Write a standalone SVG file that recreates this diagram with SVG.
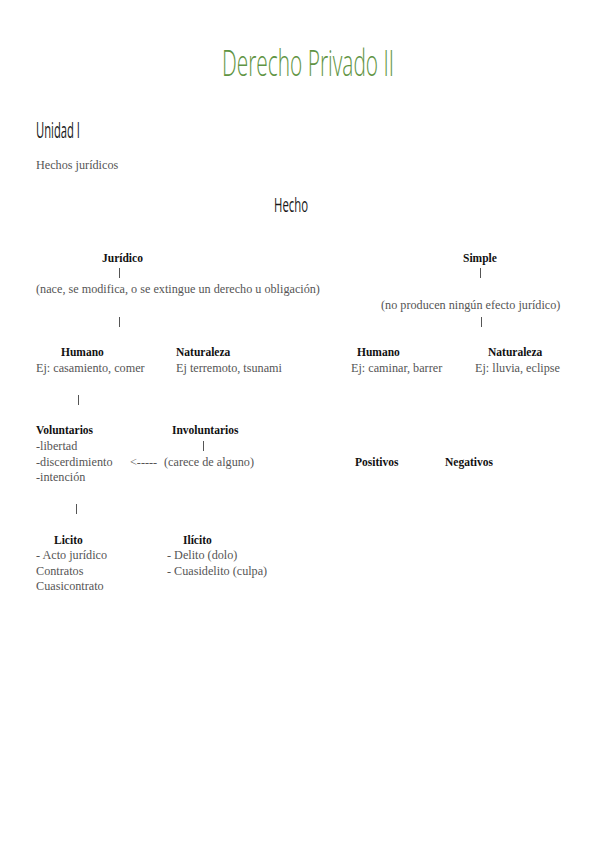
<svg xmlns="http://www.w3.org/2000/svg" width="599" height="848" viewBox="0 0 599 848">
<style>
.t{font-family:"Liberation Serif","Times New Roman",serif;font-size:12.2px;fill:#555}
.b{font-family:"Liberation Serif","Times New Roman",serif;font-size:11.5px;font-weight:bold;fill:#111}
.h{font-family:"Open Sans","DejaVu Sans",sans-serif;font-weight:400;fill:#1a1a1a}
.bar{stroke:#555;stroke-width:1}
</style>
<rect width="599" height="848" fill="#fff"/>
<g id="title"><text class="h" x="222" y="76" font-size="36" style="fill:#5f9443;font-weight:300" textLength="172" lengthAdjust="spacingAndGlyphs">Derecho Privado II</text></g>
<g id="unidad"><text class="h" x="36" y="138" font-size="21" textLength="44" lengthAdjust="spacingAndGlyphs">Unidad I</text></g>
<g id="hechos-juridicos"><text class="t" x="36" y="169">Hechos jurídicos</text></g>
<g id="hecho"><text class="h" x="274" y="212" font-size="20" textLength="34" lengthAdjust="spacingAndGlyphs">Hecho</text></g>

<g id="juridico"><text class="b" x="102" y="262">Jurídico</text>
<text class="t" x="36" y="293">(nace, se modifica, o se extingue un derecho u obligación)</text></g>
<g id="simple"><text class="b" x="463" y="262">Simple</text>
<text class="t" x="381" y="309">(no producen ningún efecto jurídico)</text></g>

<g id="humano-j"><text class="b" x="61" y="356">Humano</text><text class="t" x="36" y="372">Ej: casamiento, comer</text></g>
<g id="naturaleza-j"><text class="b" x="176" y="356">Naturaleza</text><text class="t" x="176" y="372">Ej terremoto, tsunami</text></g>
<g id="humano-s"><text class="b" x="357" y="356">Humano</text><text class="t" x="351" y="372">Ej: caminar, barrer</text></g>
<g id="naturaleza-s"><text class="b" x="488" y="356">Naturaleza</text><text class="t" x="475" y="372">Ej: lluvia, eclipse</text></g>

<g id="voluntarios"><text class="b" x="36" y="434">Voluntarios</text>
<text class="t" x="36" y="450">-libertad</text>
<text class="t" x="36" y="466">-discerdimiento</text>
<text class="t" x="36" y="481">-intención</text></g>
<g id="involuntarios"><text class="b" x="172" y="434">Involuntarios</text>
<text class="t" x="164" y="466">(carece de alguno)</text></g>
<g id="positivos"><text class="b" x="355" y="466">Positivos</text></g>
<g id="negativos"><text class="b" x="445" y="466">Negativos</text></g>

<g id="licito"><text class="b" x="54" y="544">Licito</text>
<text class="t" x="36" y="559">- Acto jurídico</text>
<text class="t" x="36" y="575">Contratos</text>
<text class="t" x="36" y="590">Cuasicontrato</text></g>
<g id="ilicito"><text class="b" x="183" y="544">Ilícito</text>
<text class="t" x="167" y="559">- Delito (dolo)</text>
<text class="t" x="167" y="575">- Cuasidelito (culpa)</text></g>

<g id="connectors">
<line class="bar" x1="119.5" y1="268" x2="119.5" y2="278"/>
<line class="bar" x1="119.5" y1="317" x2="119.5" y2="327"/>
<line class="bar" x1="480.5" y1="268" x2="480.5" y2="278"/>
<line class="bar" x1="481.5" y1="317" x2="481.5" y2="327"/>
<line class="bar" x1="78.5" y1="395" x2="78.5" y2="405"/>
<line class="bar" x1="203.5" y1="441" x2="203.5" y2="451"/>
<line class="bar" x1="76.5" y1="504" x2="76.5" y2="514"/>
<text class="t" x="130" y="466">&lt;-----</text>
</g>
</svg>
